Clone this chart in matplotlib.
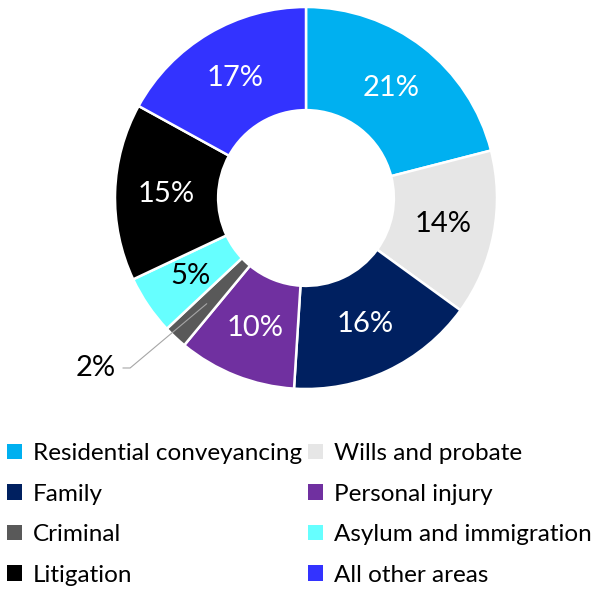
import matplotlib

matplotlib.use("Agg")

import matplotlib.pyplot as plt
import numpy as np
from matplotlib.patches import Patch

plt.rcParams["font.family"] = ["Lato", "DejaVu Sans"]

areas = [
    "Residential conveyancing",
    "Wills and probate",
    "Family",
    "Personal injury",
    "Criminal",
    "Asylum and immigration",
    "Litigation",
    "All other areas",
]
shares = [21, 14, 16, 10, 2, 5, 15, 17]
colors = ["#00B0F0", "#E6E6E6", "#002060", "#7030A0", "#595959", "#66FFFF", "#000000", "#3333FF"]
label_colors = ["white", "black", "white", "white", "black", "black", "white", "white"]

fig = plt.figure(figsize=(6.03, 5.92), dpi=100)
ax = fig.add_axes([115 / 603, 1 - 389 / 592, 382 / 603, 382 / 592])

wedges, _ = ax.pie(
    shares,
    colors=colors,
    startangle=90,
    counterclock=False,
    radius=1.0,
    wedgeprops=dict(width=0.54, edgecolor="white", linewidth=1.8),
)
ax.set_xlim(-1, 1)
ax.set_ylim(-1, 1)
ax.set_aspect("equal")

# percentage labels sit in the middle of the ring; the small slice gets a leader line
label_r = 0.73
for wedge, value, tcolor in zip(wedges, shares, label_colors):
    mid = np.deg2rad((wedge.theta1 + wedge.theta2) / 2)
    x, y = label_r * np.cos(mid), label_r * np.sin(mid)
    if value < 3:
        ax.annotate(
            f"{value}%",
            xy=(x * 1.04, y * 1.04),
            xytext=(-1.10, -0.89),
            ha="center",
            va="center",
            fontsize=21,
            color="black",
            annotation_clip=False,
            arrowprops=dict(arrowstyle="-", color="#A6A6A6", linewidth=0.8,
                            connectionstyle="angle,angleA=0,angleB=40,rad=0",
                            shrinkA=3, shrinkB=0),
        )
    else:
        ax.text(x, y, f"{value}%", ha="center", va="center", fontsize=21, color=tcolor)

order = [0, 2, 4, 6, 1, 3, 5, 7]
handles = [Patch(facecolor=colors[i], edgecolor="none") for i in order]
labels = [areas[i] for i in order]
fig.legend(
    handles,
    labels,
    ncol=2,
    loc="upper left",
    bbox_to_anchor=(0.0, 1 - 436 / 592),
    frameon=False,
    fontsize=17.5,
    handlelength=0.6,
    handleheight=0.6,
    handletextpad=0.45,
    columnspacing=0.25,
    labelspacing=0.8,
    borderaxespad=0.0,
    borderpad=0.3,
)

fig.savefig("out.png", dpi=100)
